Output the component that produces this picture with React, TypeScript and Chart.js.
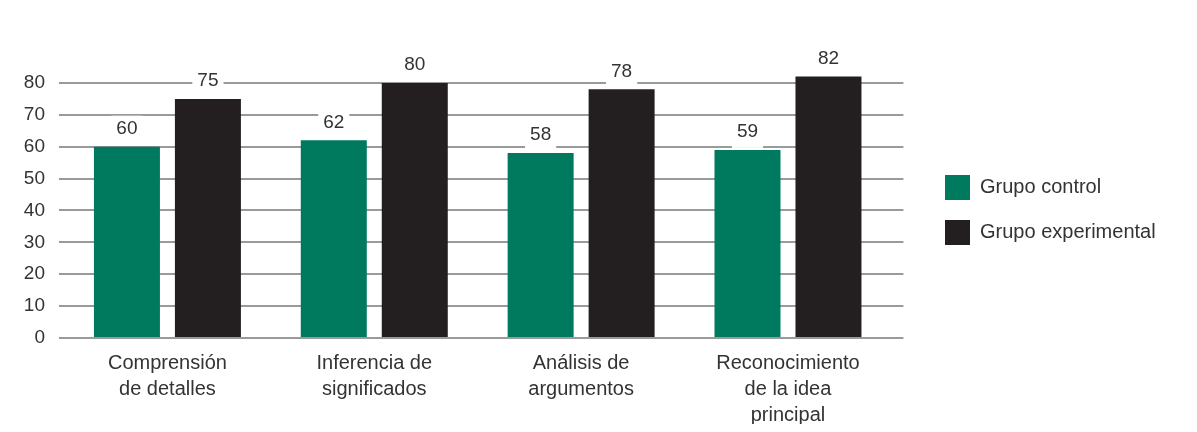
import React, { useEffect, useRef } from 'react';
import { Chart, registerables } from 'chart.js';

Chart.register(...registerables);

// ---- data ----
const categories: string[][] = [
  ['Comprensión', 'de detalles'],
  ['Inferencia de', 'significados'],
  ['Análisis de', 'argumentos'],
  ['Reconocimiento', 'de la idea', 'principal'],
];
const seriesNames = ['Grupo control', 'Grupo experimental'];
const controlValues = [60, 62, 58, 59];
const experimentalValues = [75, 80, 78, 82];
const yTickValues = [0, 10, 20, 30, 40, 50, 60, 70, 80];

// ---- style ----
const FONT = "'Liberation Sans', Arial, sans-serif";
const GREEN = '#007a5e';
const BLACK = '#231f20';
const GRID = '#9a9a9a';
const TEXT = '#333333';

const legendShiftPlugin = {
  id: 'legendShift',
  afterLayout(chart: any) {
    const lg = chart.legend;
    if (!lg) return;
    const ca = chart.chartArea;
    const pad = 20;
    const dx = ca.right + 53.6 - pad - lg.left;
    const dy = ca.top + 143 - (lg.top + lg.bottom) / 2;
    lg.left += dx;
    lg.right += dx;
    lg.top += dy;
    lg.bottom += dy;
  },
};

const valueLabelPlugin = {
  id: 'valueLabels',
  afterDatasetsDraw(chart: any) {
    const ctx = chart.ctx;
    ctx.save();
    ctx.font = `19px ${FONT}`;
    ctx.textAlign = 'center';
    ctx.textBaseline = 'middle';
    chart.data.datasets.forEach((ds: any, i: number) => {
      const meta = chart.getDatasetMeta(i);
      meta.data.forEach((bar: any, j: number) => {
        const text = String(ds.data[j]);
        const cy = bar.y - 18;
        const w = ctx.measureText(text).width + 10;
        ctx.fillStyle = '#ffffff';
        ctx.fillRect(bar.x - w / 2, cy - 13, w, 29);
        ctx.fillStyle = TEXT;
        ctx.fillText(text, bar.x, cy);
      });
    });
    ctx.restore();
  },
};

export default function App() {
  const ref = useRef<HTMLCanvasElement | null>(null);

  useEffect(() => {
    if (!ref.current) return;
    const chart = new Chart(ref.current, {
      type: 'bar',
      data: {
        labels: categories,
        datasets: [
          {
            label: seriesNames[0],
            data: controlValues,
            backgroundColor: GREEN,
            borderWidth: 0,
            categoryPercentage: 0.783,
            barPercentage: 0.815,
          },
          {
            label: seriesNames[1],
            data: experimentalValues,
            backgroundColor: BLACK,
            borderWidth: 0,
            categoryPercentage: 0.783,
            barPercentage: 0.815,
          },
        ],
      },
      options: {
        responsive: false,
        animation: false,
        layout: { padding: { left: 0, right: 45.6, top: 59, bottom: 0 } },
        plugins: {
          tooltip: { enabled: false },
          legend: {
            position: 'right',
            align: 'center',
            maxWidth: 240,
            labels: {
              boxWidth: 25,
              boxHeight: 25,
              padding: 20,
              color: TEXT,
              font: { family: FONT, size: 20 },
            },
          },
        },
        scales: {
          x: {
            grid: { display: false, drawTicks: false },
            border: { display: false },
            ticks: {
              color: TEXT,
              padding: 12,
              maxRotation: 0,
              autoSkip: false,
              font: { family: FONT, size: 20, lineHeight: 1.3 },
            },
            afterFit: (s: any) => {
              s.height = 86;
            },
          },
          y: {
            min: 0,
            max: 85,
            border: { display: false },
            grid: { color: GRID, lineWidth: 2, drawTicks: true, tickLength: 5 },
            ticks: {
              color: TEXT,
              padding: 14,
              font: { family: FONT, size: 19 },
            },
            afterBuildTicks: (axis: any) => {
              axis.ticks = yTickValues.map((v) => ({ value: v }));
            },
            afterFit: (s: any) => {
              s.width = 56;
            },
          },
          y2: {
            position: 'right',
            min: 0,
            max: 85,
            border: { display: false },
            grid: {
              color: GRID,
              lineWidth: 2,
              drawOnChartArea: false,
              drawTicks: true,
              tickLength: 12,
            },
            ticks: { display: false },
            afterBuildTicks: (axis: any) => {
              axis.ticks = yTickValues.map((v) => ({ value: v }));
            },
            afterFit: (s: any) => {
              s.width = 12;
            },
          },
        },
      },
      plugins: [legendShiftPlugin, valueLabelPlugin],
    } as any);
    return () => chart.destroy();
  }, []);

  return (
    <div style={{ width: 1181, height: 416 }}>
      <canvas ref={ref} width={1181} height={416} style={{ display: 'block' }} />
    </div>
  );
}
